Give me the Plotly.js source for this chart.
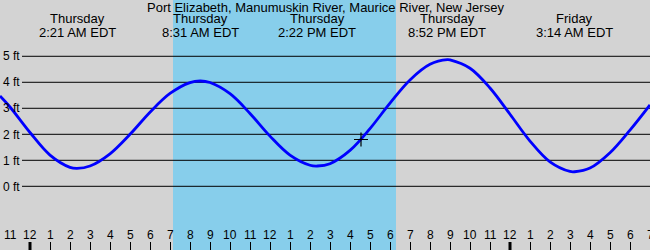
<!DOCTYPE html>
<html>
<head>
<meta charset="utf-8">
<script src="https://cdn.plot.ly/plotly-3.0.1.min.js"></script>
<style>html,body{margin:0;padding:0;background:#d3d3d3;}#chart{width:650px;height:250px;}</style>
</head>
<body>
<div id="chart"></div>
<script>
// Hours since Thursday midnight (EDT)
const hours = [-1.5, -1, 0, 1, 2, 2.35, 3, 4, 5, 6, 7, 8, 8.52, 9, 10, 11, 12, 13, 14, 14.37, 15, 16, 17, 18, 19, 20, 20.87, 21, 22, 23, 24, 25, 26, 27, 27.23, 28, 29, 30, 31];
const heightFt = [3.47, 3.05, 2.07, 1.20, 0.73, 0.69, 0.78, 1.25, 2.00, 2.85, 3.57, 3.99, 4.05, 3.99, 3.56, 2.80, 1.93, 1.20, 0.81, 0.78, 0.87, 1.38, 2.22, 3.20, 4.09, 4.69, 4.87, 4.86, 4.54, 3.78, 2.77, 1.74, 0.94, 0.57, 0.56, 0.70, 1.29, 2.16, 3.13];

const extremeHours = [2.35, 8.52, 14.37, 20.87, 27.23];
const extremeDays = ["Thursday", "Thursday", "Thursday", "Thursday", "Friday"];
const extremeTimes = ["2:21 AM EDT", "8:31 AM EDT", "2:22 PM EDT", "8:52 PM EDT", "3:14 AM EDT"];

const nowHour = [16.55];
const nowHeight = [1.8];

const daylightStart = 7.15;
const daylightEnd = 18.3;

const hourTickVals = [-1,0,1,2,3,4,5,6,7,8,9,10,11,12,13,14,15,16,17,18,19,20,21,22,23,24,25,26,27,28,29,30,31];
const hourTickText = ["11","12","1","2","3","4","5","6","7","8","9","10","11","12","1","2","3","4","5","6","7","8","9","10","11","12","1","2","3","4","5","6","7"];

const ftTickVals = [0,1,2,3,4,5];
const ftTickText = ["0 ft","1 ft","2 ft","3 ft","4 ft","5 ft"];

const title = "Port Elizabeth, Manumuskin River, Maurice River, New Jersey";

const FONT = "Liberation Sans, Arial, sans-serif";

const shapes = [];
shapes.push({type:'rect', xref:'x', yref:'paper', x0:daylightStart, x1:daylightEnd, y0:0, y1:1,
  fillcolor:'#87ceeb', line:{width:0}, layer:'below'});
ftTickVals.forEach(v => shapes.push({type:'line', xref:'x', yref:'y', x0:-0.4, x1:31, y0:v, y1:v,
  line:{color:'black', width:1}, layer:'between'}));
hourTickVals.filter(h => h % 24 === 0).forEach(h => shapes.push({type:'line', xref:'x', yref:'paper',
  x0:h, x1:h, y0:0, y1:0.032, line:{color:'black', width:3}, layer:'above'}));

const annotations = [];
extremeHours.forEach((h, i) => {
  annotations.push({x:h, xref:'x', y:1-19/250, yref:'paper', text:extremeDays[i], showarrow:false,
    xanchor:'center', yanchor:'middle', font:{family:FONT, size:13, color:'black'}});
  annotations.push({x:h, xref:'x', y:1-32/250, yref:'paper', text:extremeTimes[i], showarrow:false,
    xanchor:'center', yanchor:'middle', font:{family:FONT, size:13, color:'black'}});
});
annotations.push({x:0.5, xref:'paper', y:1-7/250, yref:'paper', text:title, showarrow:false,
  xanchor:'center', yanchor:'middle', font:{family:FONT, size:13, color:'black'}});
hourTickVals.forEach((h, i) => {
  annotations.push({x:h, xref:'x', y:1-235/250, yref:'paper', text:hourTickText[i], showarrow:false,
    xanchor:'center', yanchor:'middle', font:{family:FONT, size:12, color:'black'}});
});

const traces = [
  {x:hours, y:heightFt, type:'scatter', mode:'lines', line:{color:'#0000ff', width:2.8, shape:'spline', smoothing:1},
   hoverinfo:'skip'},
  {x:nowHour, y:nowHeight, type:'scatter', mode:'markers',
   marker:{symbol:'cross-thin-open', size:10, line:{color:'black', width:1.2}, color:'black'}, hoverinfo:'skip'}
];

const layout = {
  width:650, height:250,
  margin:{l:0, r:0, t:0, b:0, pad:0},
  paper_bgcolor:'#d3d3d3', plot_bgcolor:'#d3d3d3',
  showlegend:false,
  font:{family:FONT, size:12, color:'black'},
  xaxis:{range:[-1.5, 31], tickvals:hourTickVals, ticktext:hourTickText, ticks:'inside', ticklen:8,
    tickcolor:'black', tickwidth:1, showticklabels:false, showgrid:false, zeroline:false, showline:false,
    fixedrange:true},
  yaxis:{range:[-2.45, 7.165], tickvals:ftTickVals, ticktext:ftTickText, ticks:'', ticklabelposition:'inside',
    showgrid:false, zeroline:false, showline:false, tickfont:{family:FONT, size:12, color:'black'}, fixedrange:true},
  shapes:shapes,
  annotations:annotations
};

Plotly.newPlot('chart', traces, layout, {displayModeBar:false, staticPlot:true});
</script>
</body>
</html>
